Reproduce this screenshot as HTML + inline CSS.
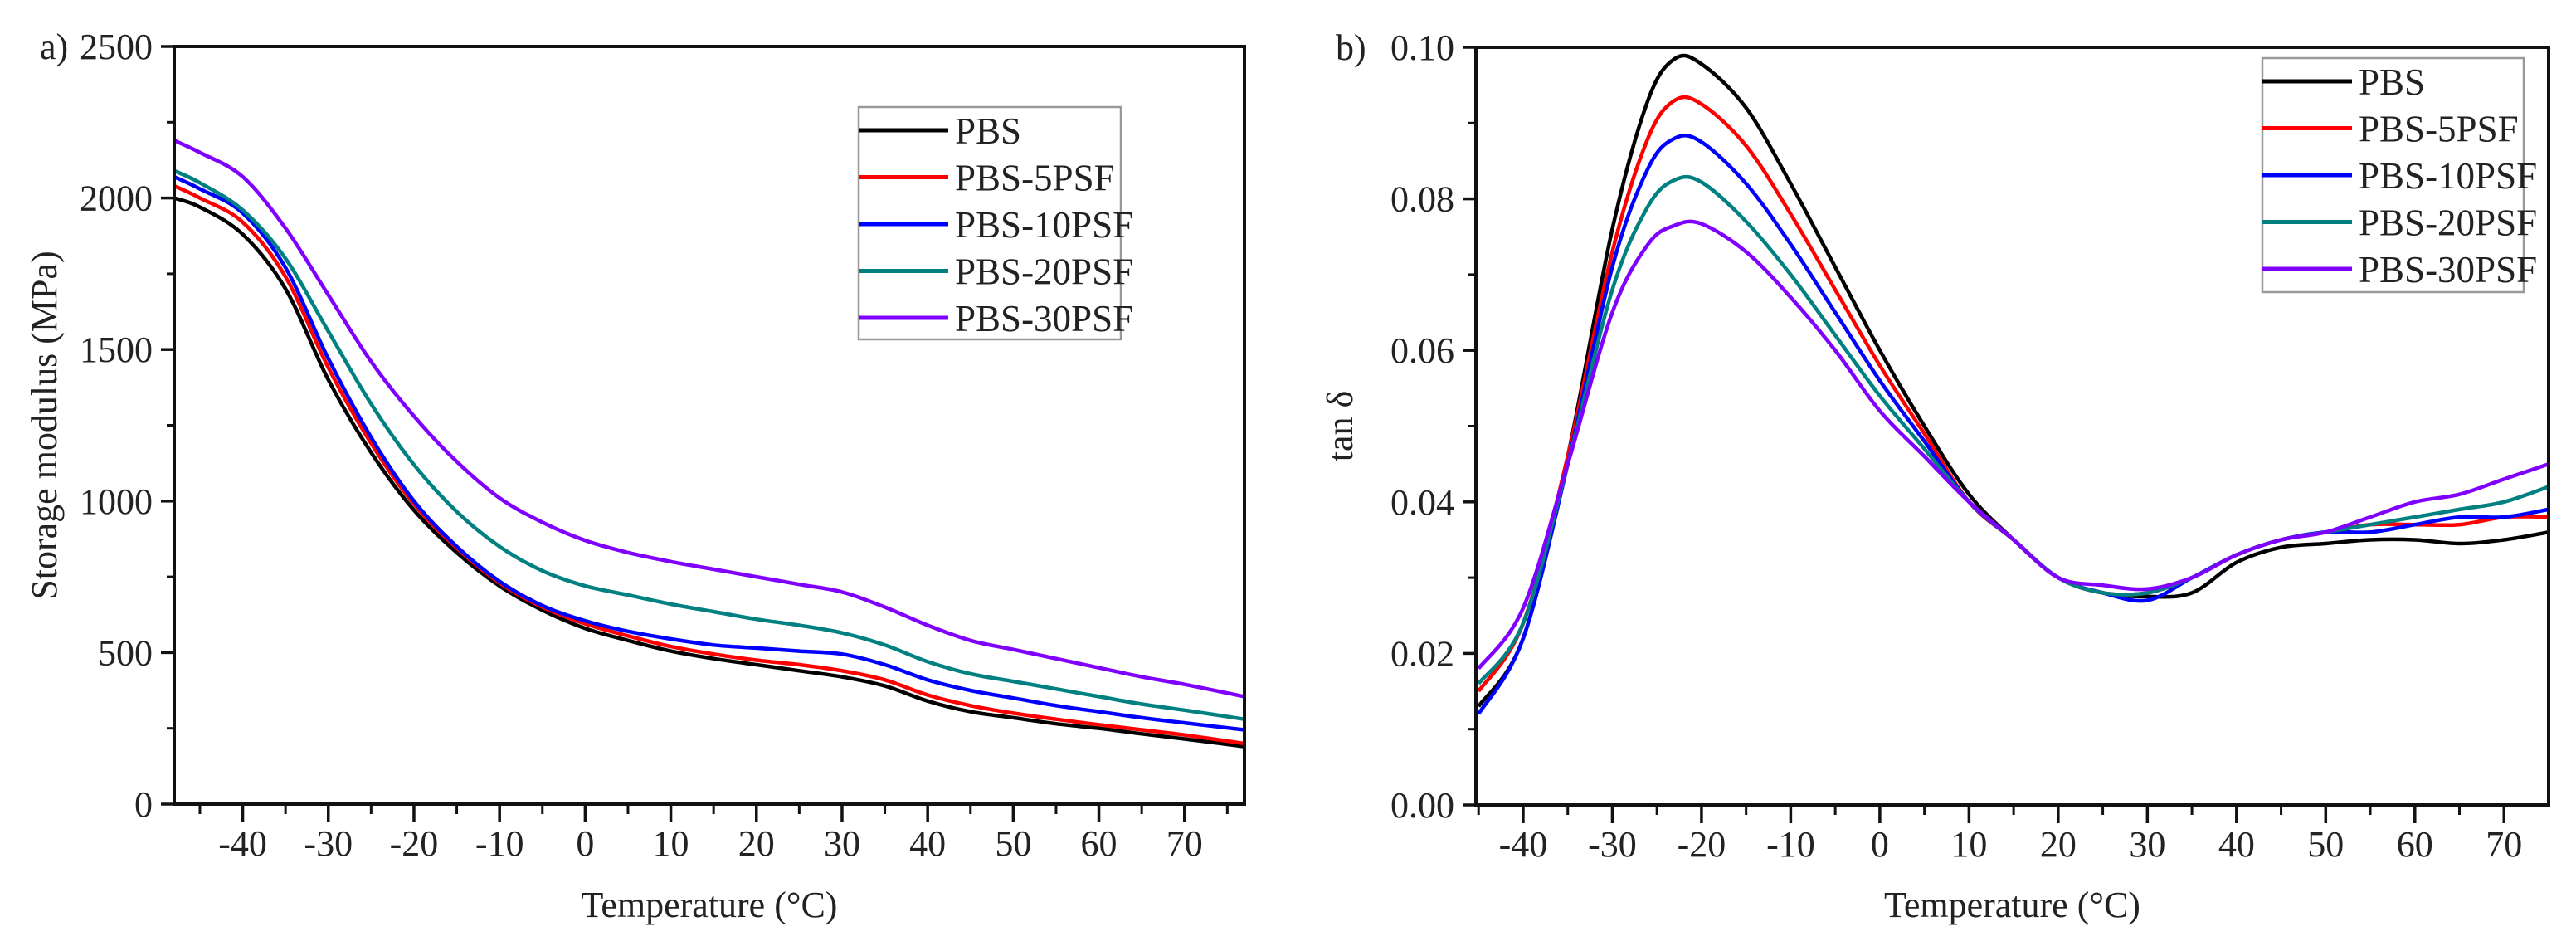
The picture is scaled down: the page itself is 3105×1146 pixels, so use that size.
<!DOCTYPE html>
<html><head><meta charset="utf-8"><style>
html,body{margin:0;padding:0;background:#fff;}
svg{display:block;}
text{font-family:"Liberation Serif",serif;fill:#222;}
</style></head><body>
<svg id="fig" width="3105" height="1146" viewBox="0 0 3105 1146" xmlns="http://www.w3.org/2000/svg"></svg>
<script>
const seriesNames=["PBS","PBS-5PSF","PBS-10PSF","PBS-20PSF","PBS-30PSF"];
const seriesColors=["#000000","#ff0000","#0000ff","#008080","#8000ff"];
const tempA=[-48,-45,-40,-35,-30,-25,-20,-15,-10,-5,0,5,10,15,20,25,30,35,40,45,50,55,60,65,70,77];
const modPBS=[2000,1970,1880,1700,1400,1160,970,830,720,640,580,540,505,480,460,440,420,390,340,305,285,265,250,232,215,190];
const mod5=[2040,2000,1920,1740,1440,1190,990,845,730,650,595,555,520,495,475,460,440,410,360,325,300,280,262,245,228,200];
const mod10=[2070,2030,1950,1770,1470,1210,1000,850,735,655,605,570,545,525,515,505,495,460,410,375,350,325,305,285,268,245];
const mod20=[2090,2050,1960,1800,1560,1320,1120,965,850,770,720,690,660,635,610,590,565,525,470,430,405,380,355,330,310,280];
const mod30=[2190,2150,2070,1900,1680,1460,1280,1130,1010,930,870,830,800,775,750,725,700,650,590,540,510,480,450,420,395,355];
const tempB=[-45,-40,-35,-30,-26,-23,-20,-15,-10,-5,0,5,10,15,20,25,30,35,40,45,50,55,60,65,70,75];
const tanPBS=[.013,.022,.046,.076,.093,.0985,.0978,.092,.082,.071,.060,.050,.041,.035,.030,.028,.0275,.028,.032,.034,.0345,.035,.035,.0345,.035,.036];
const tan5=[.015,.024,.046,.073,.088,.093,.0925,.087,.078,.068,.058,.049,.040,.035,.030,.028,.028,.030,.033,.035,.036,.037,.037,.037,.038,.038];
const tan10=[.012,.022,.045,.071,.084,.088,.0875,.082,.074,.065,.056,.048,.040,.035,.030,.028,.027,.030,.033,.035,.036,.036,.037,.038,.038,.039];
const tan20=[.016,.024,.045,.068,.079,.0825,.0822,.077,.070,.062,.054,.047,.040,.035,.030,.028,.028,.030,.033,.035,.036,.037,.038,.039,.040,.042];
const tan30=[.018,.026,.045,.065,.074,.0765,.0767,.073,.067,.060,.052,.046,.040,.035,.030,.029,.0285,.030,.033,.035,.036,.038,.040,.041,.043,.045];
const xTicks=[-40,-30,-20,-10,0,10,20,30,40,50,60,70];
const yTicksA=[0,500,1000,1500,2000,2500];
const yTicksB=[0,0.02,0.04,0.06,0.08,0.10];

const NS="http://www.w3.org/2000/svg";
const svg=document.getElementById('fig');
function mk(tag,attrs,parent){const e=document.createElementNS(NS,tag);for(const k in attrs)e.setAttribute(k,attrs[k]);(parent||svg).appendChild(e);return e;}
function smooth(pts){let d="M"+pts[0][0].toFixed(1)+","+pts[0][1].toFixed(1);
 for(let i=0;i<pts.length-1;i++){const p0=pts[Math.max(0,i-1)],p1=pts[i],p2=pts[i+1],p3=pts[Math.min(pts.length-1,i+2)];
 const c1=[p1[0]+(p2[0]-p0[0])/6,p1[1]+(p2[1]-p0[1])/6],c2=[p2[0]-(p3[0]-p1[0])/6,p2[1]-(p3[1]-p1[1])/6];
 d+="C"+c1[0].toFixed(1)+","+c1[1].toFixed(1)+" "+c2[0].toFixed(1)+","+c2[1].toFixed(1)+" "+p2[0].toFixed(1)+","+p2[1].toFixed(1);}return d;}

function panel(o){
 const g=mk('g',{});
 
 
 const sx=v=>o.x0+(v-o.xmin)/(o.xmax-o.xmin)*(o.x1-o.x0);
 const sy=v=>o.y1-(v-o.ymin)/(o.ymax-o.ymin)*(o.y1-o.y0);
 o.series.forEach((vals,i)=>{
  const p=mk('path',{d:smooth(o.xs.map((x,j)=>[sx(x),sy(vals[j])])),fill:'none',stroke:seriesColors[i],'stroke-width':4.5,'stroke-linejoin':'round'},g);
  
  
 });
 const fr=mk('rect',{x:o.x0,y:o.y0,width:o.x1-o.x0,height:o.y1-o.y0,fill:'none',stroke:'#111','stroke-width':4},g);
 
 
 xTicks.forEach(t=>{
  const x=sx(t);
  mk('line',{x1:x,y1:o.y1,x2:x,y2:o.y1+22,stroke:'#111','stroke-width':3.5},g);
  const m=sx(t-5); if(m>o.x0) mk('line',{x1:m,y1:o.y1,x2:m,y2:o.y1+12,stroke:'#111','stroke-width':3},g);
  const tx=mk('text',{x:x,y:o.y1+62,'font-size':44,'text-anchor':'middle'},g);tx.textContent=t;
  
  
 });
 const last=sx(75); if(last<o.x1) mk('line',{x1:last,y1:o.y1,x2:last,y2:o.y1+12,stroke:'#111','stroke-width':3},g);
 o.yt.forEach((t,k)=>{
  const y=sy(t);
  mk('line',{x1:o.x0-16,y1:y,x2:o.x0,y2:y,stroke:'#111','stroke-width':3.5},g);
  if(k<o.yt.length-1){const ym=sy(t+(o.yt[1]-o.yt[0])/2);mk('line',{x1:o.x0-9,y1:ym,x2:o.x0,y2:ym,stroke:'#111','stroke-width':3},g);}
  const tx=mk('text',{x:o.x0-26,y:y+15,'font-size':44,'text-anchor':'end'},g);tx.textContent=o.fmt(t);
  
  
 });
 const xt=mk('text',{x:(o.x0+o.x1)/2,y:1105,'font-size':44,'text-anchor':'middle'},g);
 xt.textContent="Temperature (\u00B0C)";
 
 
 const yt=mk('text',{x:o.ytx,y:(o.y0+o.y1)/2,'font-size':44,'text-anchor':'middle',transform:'rotate(-90 '+o.ytx+' '+((o.y0+o.y1)/2)+')'},g);
 yt.textContent=o.ytitle;
 
 
 const pl=mk('text',{x:o.plx,y:o.y0+15,'font-size':44},g);pl.textContent=o.label;
 
 
 const L=o.leg;
 const lg=mk('g',{},g);
 
 
 mk('rect',{x:L.x,y:L.y,width:L.w,height:L.h,fill:'#fff',stroke:'#999','stroke-width':2.5},lg);
 seriesNames.forEach((n,i)=>{
  const yy=L.y+28+i*56.5;
  const e=mk('g',{},lg);
  
  
  mk('line',{x1:L.x,y1:yy,x2:L.x+108,y2:yy,stroke:seriesColors[i],'stroke-width':5},e);
  const t=mk('text',{x:L.x+116,y:yy+16,'font-size':45},e);t.textContent=n;
 });
}

panel({name:'storage-modulus-chart',x0:210,x1:1500,y0:56,y1:969,xmin:-48,xmax:77,ymin:0,ymax:2500,xs:tempA,
 series:[modPBS,mod5,mod10,mod20,mod30],yt:yTicksA,fmt:v=>String(v),ytx:68,ytitle:'Storage modulus (MPa)',plx:48,label:'a)',
 leg:{x:1035,y:129,w:316,h:280}});
panel({name:'tan-delta-chart',x0:1779,x1:3072,y0:57,y1:970,xmin:-45.3,xmax:75,ymin:0,ymax:0.10,xs:tempB,
 series:[tanPBS,tan5,tan10,tan20,tan30],yt:yTicksB,fmt:v=>v.toFixed(2),ytx:1630,ytitle:'tan \u03B4',plx:1610,label:'b)',
 leg:{x:2727,y:70,w:315,h:282}});
</script>
</body></html>
